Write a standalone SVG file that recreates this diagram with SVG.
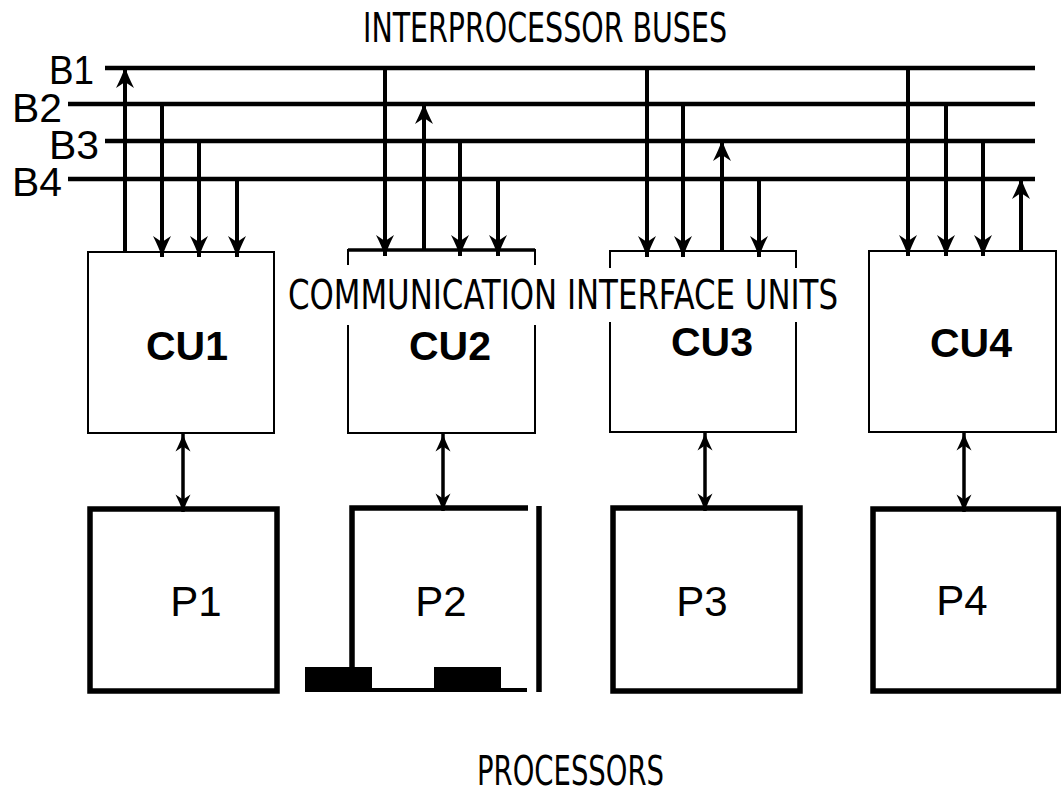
<svg xmlns="http://www.w3.org/2000/svg" width="1061" height="795" viewBox="0 0 1061 795">
<style>
.bus{stroke:#000;stroke-width:4.5;fill:none}
.conn{stroke:#000;stroke-width:4;fill:none}
.bi{stroke:#000;stroke-width:3.5;fill:none}
.cu{stroke:#000;stroke-width:2;fill:none}
.p{stroke:#000;stroke-width:5.5;fill:none}
.lbl{font-family:"Liberation Sans Narrow","DejaVu Sans Condensed","Liberation Sans",sans-serif;font-size:40px;fill:#000}
.bl{font-family:"Liberation Sans",Arial,sans-serif;font-size:40px;fill:#000}
.cut{font-family:"Liberation Sans",Arial,sans-serif;font-size:41px;font-weight:bold;fill:#000;text-anchor:middle}
.pt{font-family:"Liberation Sans",Arial,sans-serif;font-size:42px;fill:#000;text-anchor:middle}
</style>
<defs>
<marker id="ah" viewBox="-22 -10 24 20" refX="0" refY="0" markerWidth="24" markerHeight="20" markerUnits="userSpaceOnUse" orient="auto">
<path d="M0,0 Q-9,-3 -21,-9 L-15,0 L-21,9 Q-9,3 0,0 Z" fill="#000"/>
</marker>
<marker id="ahs" viewBox="-22 -10 24 20" refX="0" refY="0" markerWidth="20" markerHeight="17" markerUnits="userSpaceOnUse" orient="auto">
<path d="M0,0 Q-9,-3 -21,-9 L-15,0 L-21,9 Q-9,3 0,0 Z" fill="#000"/>
</marker>
<marker id="ahsr" viewBox="-22 -10 24 20" refX="0" refY="0" markerWidth="20" markerHeight="17" markerUnits="userSpaceOnUse" orient="auto-start-reverse">
<path d="M0,0 Q-9,-3 -21,-9 L-15,0 L-21,9 Q-9,3 0,0 Z" fill="#000"/>
</marker>
</defs>
<rect width="1061" height="795" fill="#fff"/>

<g id="titles">
<text class="lbl" x="363" y="42" textLength="364" lengthAdjust="spacingAndGlyphs">INTERPROCESSOR BUSES</text>
<text class="lbl" x="288" y="309" textLength="550" lengthAdjust="spacingAndGlyphs">COMMUNICATION INTERFACE UNITS</text>
<text class="lbl" x="477" y="785" textLength="187" lengthAdjust="spacingAndGlyphs">PROCESSORS</text>
</g>

<g id="buses">
<line class="bus" x1="105" y1="68" x2="1035" y2="68"/>
<line class="bus" x1="68" y1="104" x2="1035" y2="104"/>
<line class="bus" x1="105" y1="141" x2="1035" y2="141"/>
<line class="bus" x1="68" y1="179" x2="1035" y2="179"/>
<text class="bl" x="49" y="84" textLength="45" lengthAdjust="spacingAndGlyphs">B1</text>
<text class="bl" x="12" y="122" textLength="50" lengthAdjust="spacingAndGlyphs">B2</text>
<text class="bl" x="49" y="159" textLength="50" lengthAdjust="spacingAndGlyphs">B3</text>
<text class="bl" x="12" y="196" textLength="50" lengthAdjust="spacingAndGlyphs">B4</text>
</g>

<g id="CU1">
<rect class="cu" x="88" y="252" width="186" height="181"/>
<text class="cut" x="187" y="360">CU1</text>
</g>
<g id="CU2">
<path class="cu" d="M348,265 V250 H535 V265 M348,325 V433 H535 V325"/>
<line x1="348" y1="250" x2="535" y2="250" stroke="#000" stroke-width="3.5"/>
<text class="cut" x="450" y="360">CU2</text>
</g>
<g id="CU3">
<path class="cu" d="M610,268 V251 H796 V268 M610,322 V432 H796 V322"/>
<text class="cut" x="712" y="356">CU3</text>
</g>
<g id="CU4">
<rect class="cu" x="869" y="251" width="187" height="181"/>
<text class="cut" x="971" y="357">CU4</text>
</g>

<g id="P1">
<rect class="p" x="90" y="509" width="187" height="182"/>
<text class="pt" x="196" y="616">P1</text>
</g>
<g id="P2">
<path class="p" d="M352,668 V508 H528"/>
<line class="p" x1="539" y1="506" x2="539" y2="692"/>
<line x1="372" y1="690" x2="527" y2="690" stroke="#000" stroke-width="4"/>
<rect x="305" y="667" width="67" height="25" fill="#000"/>
<rect x="434" y="667" width="67" height="25" fill="#000"/>
<text class="pt" x="441" y="616">P2</text>
</g>
<g id="P3">
<rect class="p" x="613" y="508" width="187" height="183"/>
<text class="pt" x="702" y="616">P3</text>
</g>
<g id="P4">
<rect class="p" x="873" y="509" width="186" height="182"/>
<text class="pt" x="962" y="615">P4</text>
</g>

<g id="connectors">
<line class="conn" x1="125" y1="252" x2="125" y2="67" marker-end="url(#ah)"/>
<line class="conn" x1="162" y1="104" x2="162" y2="257" marker-end="url(#ah)"/>
<line class="conn" x1="199" y1="141" x2="199" y2="257" marker-end="url(#ah)"/>
<line class="conn" x1="237" y1="179" x2="237" y2="257" marker-end="url(#ah)"/>
<line class="conn" x1="385" y1="68" x2="385" y2="256" marker-end="url(#ah)"/>
<line class="conn" x1="424" y1="250" x2="424" y2="103" marker-end="url(#ah)"/>
<line class="conn" x1="460" y1="141" x2="460" y2="256" marker-end="url(#ah)"/>
<line class="conn" x1="498" y1="179" x2="498" y2="256" marker-end="url(#ah)"/>
<line class="conn" x1="647" y1="68" x2="647" y2="257" marker-end="url(#ah)"/>
<line class="conn" x1="683" y1="104" x2="683" y2="257" marker-end="url(#ah)"/>
<line class="conn" x1="722" y1="251" x2="722" y2="140" marker-end="url(#ah)"/>
<line class="conn" x1="759" y1="179" x2="759" y2="257" marker-end="url(#ah)"/>
<line class="conn" x1="908" y1="68" x2="908" y2="256" marker-end="url(#ah)"/>
<line class="conn" x1="946" y1="104" x2="946" y2="256" marker-end="url(#ah)"/>
<line class="conn" x1="983" y1="141" x2="983" y2="256" marker-end="url(#ah)"/>
<line class="conn" x1="1021" y1="251" x2="1021" y2="178" marker-end="url(#ah)"/>
<line class="bi" x1="183" y1="434" x2="183" y2="512" marker-start="url(#ahsr)" marker-end="url(#ahs)"/>
<line class="bi" x1="443" y1="434" x2="443" y2="511" marker-start="url(#ahsr)" marker-end="url(#ahs)"/>
<line class="bi" x1="705" y1="433" x2="705" y2="511" marker-start="url(#ahsr)" marker-end="url(#ahs)"/>
<line class="bi" x1="964" y1="433" x2="964" y2="512" marker-start="url(#ahsr)" marker-end="url(#ahs)"/>
</g>
</svg>
